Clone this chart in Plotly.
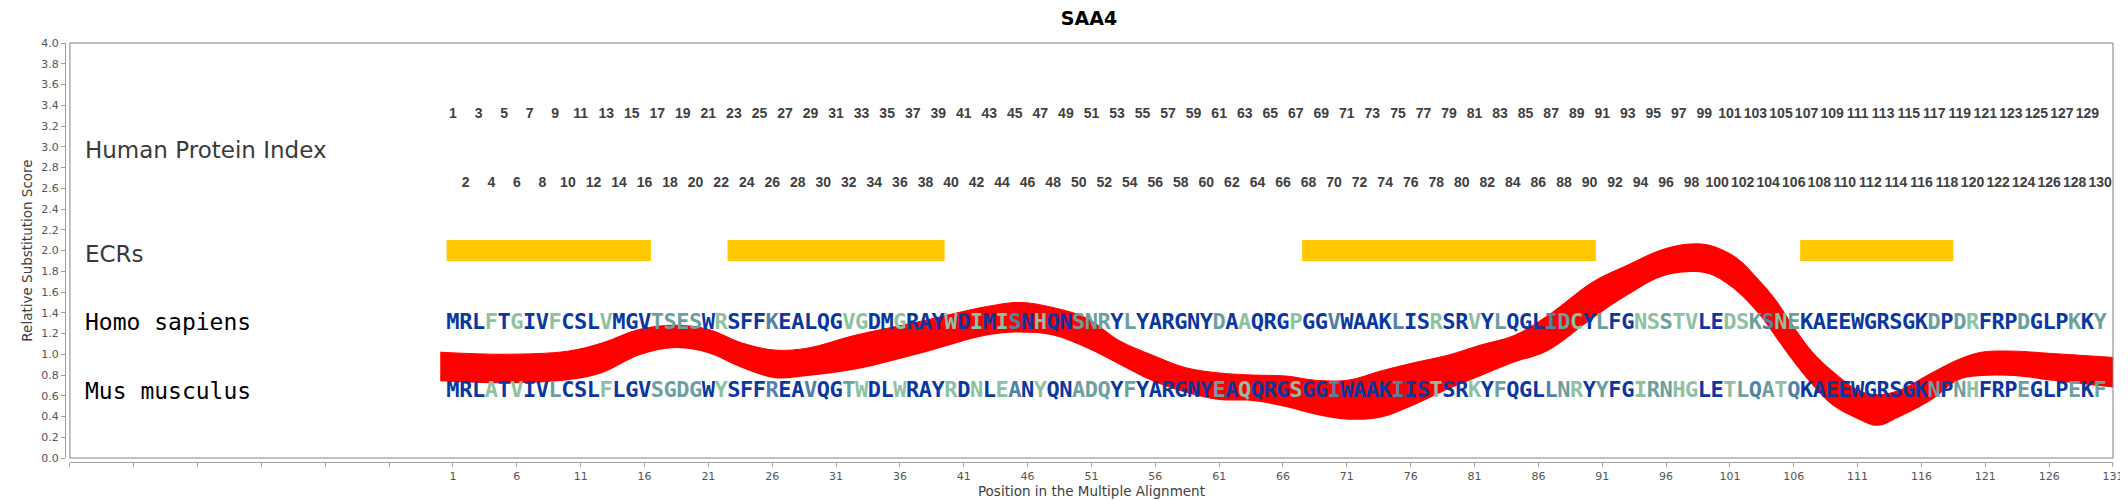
import plotly.graph_objects as go

# alignment rows (one letter per alignment position, starting at 1)
human_seq = list("MRLFTGIVFCSLVMGVTSESWRSFFKEALQGVGDMGRAYWDIMISNHQNSNRYLYARGNYDAAQRGPGGVWAAKLISRSRVYLQGLIDCYLFGNSSTVLEDSKSNEKAEEWGRSGKDPDRFRPDGLPKKY")
mouse_seq = list("MRLATVIVLCSLFLGVSGDGWYSFFREAVQGTWDLWRAYRDNLEANYQNADQYFYARGNYEAQQRGSGGIWAAKIISTSRKYFQGLLNRYYFGIRNHGLETLQATQKAEEWGRSGKNPNHFRPEGLPEKF")

# residue class per letter: B identical/strong, S similar, T weak, G dissimilar
human_cls = list("BBBGBGBBGB" "BBGBBBTTTT" "BGBBBSBBBB" "BGGBBGBBBG" "BGBGSBGBBT"
                 "TTBTBBBBBB" "TBGBBBGBBS" "BBBBSBBGBB" "GBTBBBSTGB" "TBBGGTGGBB"
                 "GGTSGTBBBB" "BBBBBBTBTG" "BBBTBBBTBT")
mouse_cls = list("BBBGBGBBTB" "BBGBBBTTTT" "BGBBBSBBSB" "BTGBBGBBBG" "BGBGSBGBBT"
                 "TTBTBBBBBB" "TBGBBBGBBS" "BBBBSBBGBB" "GBTBBBSTGB" "TBBGTTGGBB"
                 "GTSTGSBBBB" "BBBBBBTBTG" "BBBTBBBTBT")

human_index = list(range(1, 131))

# evolutionarily conserved regions (start, end positions)
ecr_start = [1, 23, 68, 107]
ecr_end = [16, 39, 90, 118]

# relative substitution score band (upper / lower edge)
curve_pos = [0, 5, 10, 12.7, 15.6, 18.4, 21, 23.6, 26.2, 28.8,
             32.4, 37.7, 42.8, 45.4, 48, 50.6, 53.2, 55.8, 58.4, 61,
             63.6, 66.3, 68.5, 71.1, 73.7, 76.3, 78.9, 81.5, 84.1, 86.7,
             90.3, 93, 95.5, 97.6, 99.4, 101.5, 103.3, 104.6, 105.9, 107.4,
             109, 111.1, 112.6, 114.2, 116.8, 118.9, 120.7, 123.3, 125.9, 131]
curve_upper = [1.02, 1.00, 1.03, 1.11, 1.24, 1.28, 1.24, 1.11, 1.04, 1.06,
               1.18, 1.32, 1.46, 1.50, 1.45, 1.35, 1.13, 0.99, 0.87, 0.82,
               0.80, 0.79, 0.75, 0.75, 0.84, 0.92, 0.99, 1.09, 1.18, 1.37,
               1.70, 1.86, 2.00, 2.06, 2.05, 1.93, 1.71, 1.52, 1.28, 1.03,
               0.84, 0.65, 0.61, 0.65, 0.82, 0.95, 1.02, 1.03, 1.01, 0.97]
curve_lower = [0.74, 0.72, 0.75, 0.82, 0.99, 1.06, 1.01, 0.87, 0.77, 0.79,
               0.85, 1.01, 1.18, 1.21, 1.18, 1.06, 0.90, 0.74, 0.63, 0.56,
               0.55, 0.49, 0.42, 0.37, 0.39, 0.51, 0.66, 0.79, 0.92, 1.03,
               1.35, 1.57, 1.74, 1.79, 1.77, 1.61, 1.38, 1.16, 0.94, 0.71,
               0.51, 0.37, 0.31, 0.39, 0.56, 0.75, 0.79, 0.79, 0.75, 0.68]

x_ticks = list(range(-29, 132, 5))
x_tick_labels = [str(v) if v >= 1 else "" for v in x_ticks]

cls_colors = {"B": "#0a37a0", "S": "#5282a6", "T": "#6d9f9f", "G": "#8ec1a1"}

fig = go.Figure()

# red band
fig.add_trace(go.Scatter(x=curve_pos, y=curve_lower, mode="lines",
                         line=dict(width=0, color="#ff0000", shape="spline", smoothing=1.0),
                         hoverinfo="skip"))
fig.add_trace(go.Scatter(x=curve_pos, y=curve_upper, mode="lines", fill="tonexty",
                         fillcolor="#ff0000",
                         line=dict(width=1, color="#ff0000", shape="spline", smoothing=1.0),
                         hoverinfo="skip"))

# ECR bars
ecr_x, ecr_y = [], []
for s, e in zip(ecr_start, ecr_end):
    ecr_x += [s - 0.5, e + 0.5, None]
    ecr_y += [2.0, 2.0, None]
fig.add_trace(go.Scatter(x=ecr_x, y=ecr_y, mode="lines",
                         line=dict(width=21, color="#ffc800"), hoverinfo="skip"))

# human protein index numbers (odd on top row, even below)
odd = [i for i in human_index if i % 2 == 1]
even = [i for i in human_index if i % 2 == 0]
idx_font = dict(family="Liberation Sans, Arial", size=14, color="#404040", weight="bold")
fig.add_trace(go.Scatter(x=odd, y=[3.31] * len(odd), mode="text",
                         text=[str(i) for i in odd], textfont=idx_font, hoverinfo="skip"))
fig.add_trace(go.Scatter(x=even, y=[2.645] * len(even), mode="text",
                         text=[str(i) for i in even], textfont=idx_font, hoverinfo="skip"))

# sequences
seq_pos = list(range(1, len(human_seq) + 1))
for seq, cls, yv in [(human_seq, human_cls, 1.30), (mouse_seq, mouse_cls, 0.64)]:
    fig.add_trace(go.Scatter(
        x=seq_pos, y=[yv] * len(seq), mode="text", text=seq,
        textfont=dict(family="DejaVu Sans Mono", size=22, weight="bold",
                      color=[cls_colors[c] for c in cls]),
        hoverinfo="skip"))

# row labels
big = dict(family="DejaVu Sans", size=23, color="#3a3a3a")
mono = dict(family="DejaVu Sans Mono", size=23, color="#000000")
row_labels = [("Human Protein Index", 2.97, big), ("ECRs", 1.97, big),
              ("Homo sapiens", 1.31, mono), ("Mus musculus", 0.65, mono)]
for txt, yv, f in row_labels:
    fig.add_annotation(x=-28, y=yv, xref="x", yref="y", text=txt, showarrow=False,
                       xanchor="left", yanchor="middle", font=f)

# plot frame
fig.add_shape(type="rect", xref="x domain", yref="y domain", x0=0, x1=1, y0=0, y1=1,
              line=dict(color="#808080", width=1), layer="above")

axis_font = dict(family="DejaVu Sans", size=11, color="#555555")
title_font = dict(family="DejaVu Sans", size=13.5, color="#404040")

fig.update_layout(
    width=2128, height=500,
    margin=dict(l=57, r=12, t=35, b=46),
    paper_bgcolor="white", plot_bgcolor="white",
    showlegend=False,
    title=dict(text="<b>SAA4</b>", x=0.5, xref="paper", xanchor="center",
               y=0.993, yanchor="top",
               font=dict(family="DejaVu Sans", size=19, color="#000000")),
    xaxis=dict(domain=[0.0024, 1], range=[-29, 131], anchor="free", position=0,
               tickvals=x_ticks, ticktext=x_tick_labels, ticks="outside", ticklen=4,
               tickcolor="#a0a0a0", showline=True, linecolor="#a0a0a0", showgrid=False,
               zeroline=False, tickfont=axis_font,
               title=dict(text="Position in the Multiple Alignment", standoff=3,
                          font=title_font)),
    yaxis=dict(domain=[0.0095, 1], range=[0, 4], anchor="free", position=0,
               dtick=0.2, tickformat=".1f", ticks="outside", ticklen=4,
               tickcolor="#a0a0a0", showline=True, linecolor="#a0a0a0", showgrid=False,
               zeroline=False, tickfont=axis_font,
               title=dict(text="Relative Substitution Score", standoff=4,
                          font=title_font)),
)

fig.write_html("out.html")
